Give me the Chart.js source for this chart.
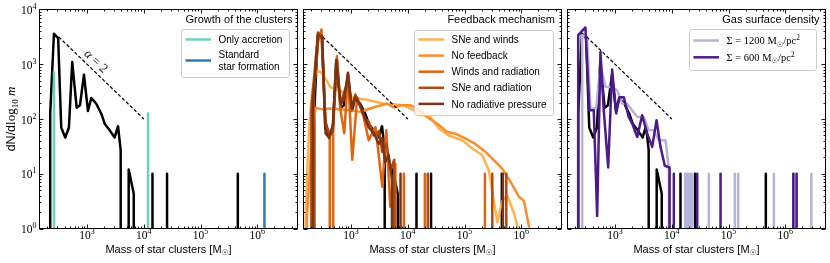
<!DOCTYPE html>
<html>
<head>
<meta charset="utf-8">
<script src="https://cdn.jsdelivr.net/npm/chart.js@4.4.0/dist/chart.umd.min.js"></script>
<style>
  html, body { margin: 0; padding: 0; background: #fff; }
  #wrap { position: relative; width: 830px; height: 263px; }
  #wrap canvas { position: absolute; left: 0; top: 0; }
</style>
</head>
<body>
<div id="wrap">
  <canvas id="c1" width="830" height="263"></canvas>
  <canvas id="c2" width="830" height="263"></canvas>
  <canvas id="c3" width="830" height="263"></canvas>
</div>
<script>
// ---------- data: log10(mass / Msun) and dN/dlog10 m (0 = empty bin) ----------
// fiducial run (black, in every panel)
const fidLogM = [2.35, 2.35, 2.416, 2.49, 2.544, 2.615, 2.68, 2.738, 2.816, 2.874, 2.945, 3.015, 3.074, 3.162, 3.25, 3.31, 3.398, 3.486, 3.545, 3.592, 3.592, 3.733, 3.733, 3.822, 3.822];
const fidDN   = [0, 126, 3600, 3000, 70, 46, 70, 1100, 161, 178, 646, 140, 242, 190, 125, 82, 62, 46, 74, 27, 0, 0, 12, 4.3, 0];
const fidSpikeLogM = [4.152, 4.409, 5.656];

// single clusters give dN/dlog m = 10
const oneCluster = 10;

// panel 1: growth of the clusters
const accSpikeLogM = [2.416, 4.074];
const accSpikeDN = [720, 126];
const stdSpikeLogM = [6.125];

// panel 2: feedback mechanism
const swLogM = [2.20, 2.20, 2.254, 2.31, 2.372, 2.45, 2.52, 2.636, 2.81, 2.99, 3.165, 3.342, 3.576, 3.78, 3.93, 4.105, 4.22, 4.37, 4.546, 4.72, 4.96, 5.135, 5.31, 5.428, 5.516, 5.576, 5.664, 5.75, 5.87, 5.93, 5.93];
const swDN   = [0, 2, 54, 300, 700, 740, 620, 380, 330, 250, 235, 218, 190, 185, 178, 145, 117, 117, 67, 50, 41, 29, 22, 11.6, 3.2, 1.3, 3.2, 4, 1.9, 1.1, 0];

const nfLogM = [2.22, 2.22, 2.30, 2.372, 2.50, 2.636, 2.81, 2.99, 3.165, 3.28, 3.46, 3.636, 3.75, 3.87, 4.047, 4.165, 4.34, 4.518, 4.694, 4.84, 5.017, 5.19, 5.37, 5.546, 5.664, 5.81, 5.957, 6.045, 6.134, 6.134];
const nfDN   = [0, 1.5, 30, 160, 150, 155, 150, 145, 135, 149, 171, 190, 162, 178, 178, 155, 109, 82, 58, 54, 44, 35, 25, 16.4, 12.4, 7.1, 3.8, 3.2, 1.1, 0];

const wrLogM = [2.34, 2.34, 2.416, 2.478, 2.55, 2.624, 2.624, 2.684, 2.684, 2.75, 2.81, 2.88, 2.945, 3.02, 3.107, 3.22, 3.31, 3.43, 3.55, 3.62, 3.69, 3.78, 3.78];
const wrDN   = [0, 250, 2500, 4300, 80, 55, 0, 0, 100, 1400, 150, 55, 650, 18, 250, 110, 41, 71, 5.8, 62, 2.5, 15, 0];
const wrSpikeLogM = [3.93, 4.30, 5.358];

const srLogM = [2.30, 2.30, 2.416, 2.478, 2.55, 2.615, 2.68, 2.75, 2.816, 2.874, 2.945, 3.015, 3.074, 3.16, 3.25, 3.31, 3.40, 3.49, 3.55, 3.62, 3.70, 3.76, 3.76];
const srDN   = [0, 150, 3800, 3300, 90, 50, 60, 1200, 180, 300, 500, 170, 280, 170, 100, 90, 50, 60, 25, 35, 12, 18, 0];
const srSpikeLogM = [4.352, 5.488, 5.735];

const nrpLogM = [2.33, 2.33, 2.416, 2.49, 2.55, 2.615, 2.68, 2.738, 2.816, 2.874, 2.945, 3.015, 3.074, 3.16, 3.25, 3.31, 3.40, 3.49, 3.55, 3.60, 3.66, 3.72, 3.72];
const nrpDN   = [0, 200, 3400, 3200, 55, 45, 80, 1200, 190, 220, 700, 150, 250, 180, 100, 70, 55, 35, 45, 16, 22, 8, 0];
const nrpSpikeLogM = [3.871, 5.675];

// panel 3: gas surface density
const s12LogM = [2.42, 2.42, 2.507, 2.566, 2.666, 2.742, 2.83, 2.948, 3.036, 3.125, 3.21, 3.30, 3.39, 3.505, 3.594, 3.68, 3.77, 3.888, 3.947, 3.947];
const s12DN   = [0, 3400, 3150, 155, 155, 1020, 385, 385, 335, 190, 190, 145, 109, 109, 62, 62, 41, 41, 13, 0];
const s12SpikeLogM = [4.235, 4.275, 4.315, 4.355, 4.652, 5.11, 5.17, 5.798, 6.163, 6.458];

const s6LogM = [2.35, 2.35, 2.477, 2.548, 2.624, 2.684, 2.742, 2.80, 2.878, 2.948, 3.019, 3.077, 3.153, 3.24, 3.30, 3.39, 3.477, 3.566, 3.654, 3.73, 3.80, 3.876, 3.96, 3.96];
const s6DN   = [0, 3400, 4700, 145, 145, 1.7, 1670, 145, 13, 800, 126, 250, 250, 109, 83, 47, 117, 54, 31, 95, 31, 14, 13, 0];
const s6SpikeLogM = [4.035, 4.447, 4.858, 6.14, 6.199];

// alpha = 2 reference slope
const slopeMass = [316, 10000];
const slopeDN = [3160, 100];

// axes
const xTickExp = [3, 4, 5, 6];
const yTickExp = [0, 1, 2, 3, 4];
const xTitle = 'Mass of star clusters [M☉]';
const panelTitles = ['Growth of the clusters', 'Feedback mechanism', 'Gas surface density'];

// ---------- helpers ----------
const SANS = '"Liberation Sans", Arial, sans-serif';
const SERIF = '"Liberation Serif", "DejaVu Serif", serif';
const EMPTY = 1e-6; // empty bins: far below the axis, like log(0) in the original

function curve(logM, dn) {
  return logM.map((l, i) => ({ x: Math.pow(10, l), y: dn[i] > 0 ? dn[i] : EMPTY }));
}
function spikes(logM, dn) {
  const out = [];
  logM.forEach((l, i) => {
    const x = Math.pow(10, l);
    const h = Array.isArray(dn) ? dn[i] : dn;
    out.push({ x, y: EMPTY }, { x, y: h }, { x, y: EMPTY });
  });
  return out;
}
function line(label, data, color, order, extra) {
  return Object.assign({
    label, data, borderColor: color, backgroundColor: color,
    borderWidth: 2.5, pointRadius: 0, tension: 0, fill: false,
    borderJoinStyle: 'round', order
  }, extra || {});
}
function fiducial() {
  return line('fiducial', curve(fidLogM, fidDN).concat(spikes(fidSpikeLogM, oneCluster)), '#000000', 20);
}
function slope() {
  return line('slope', slopeMass.map((m, i) => ({ x: m, y: slopeDN[i] })), '#000000', 0,
    { borderWidth: 1.2, borderDash: [3.5, 2] });
}

function richRuns(text, size, fam) {
  const runs = []; let buf = '';
  const flush = () => { if (buf) runs.push({ t: buf, font: size + 'px ' + fam, dy: 0 }); buf = ''; };
  for (const ch of text) {
    if (ch === '☉') { flush(); runs.push({ t: '☉', font: (size * 0.7) + 'px "DejaVu Sans"', dy: size * 0.22 }); }
    else if (ch === '²') { flush(); runs.push({ t: '2', font: (size * 0.7) + 'px ' + fam, dy: -size * 0.4 }); }
    else buf += ch;
  }
  flush();
  return runs;
}
function drawRuns(ctx, runs, x, y, align) {
  ctx.textAlign = 'left'; ctx.textBaseline = 'alphabetic';
  let w = 0;
  runs.forEach(r => { ctx.font = r.font; r.w = ctx.measureText(r.t).width; w += r.w; });
  let cx = align === 'center' ? x - w / 2 : align === 'right' ? x - w : x;
  runs.forEach(r => { ctx.font = r.font; ctx.fillText(r.t, cx, y + (r.dy || 0)); cx += r.w; });
}
function powRuns(e) {
  return [{ t: '10', font: '11.5px ' + SERIF }, { t: String(e), font: '8px ' + SERIF, dy: -5 }];
}

// frame, inward ticks, labels, legend
const deco = {
  id: 'deco',
  afterDatasetsDraw(chart, args, o) {
    const ctx = chart.ctx, a = chart.chartArea, xs = chart.scales.x, ys = chart.scales.y;
    ctx.save();
    ctx.fillStyle = '#000';
    ctx.strokeStyle = '#000';
    const seg = (x1, y1, x2, y2) => { ctx.beginPath(); ctx.moveTo(x1, y1); ctx.lineTo(x2, y2); ctx.stroke(); };

    // ticks
    ctx.lineWidth = 0.9;
    for (let d = 2; d <= 6; d++) for (let k = 1; k <= 9; k++) {
      const v = k * Math.pow(10, d);
      if (v < xs.min || v > xs.max) continue;
      const x = Math.round(xs.getPixelForValue(v)) + 0.5, L = k === 1 ? 4 : 2;
      seg(x, a.bottom, x, a.bottom - L); seg(x, a.top, x, a.top + L);
    }
    for (let d = 0; d <= 3; d++) for (let k = 1; k <= 9; k++) {
      const v = k * Math.pow(10, d);
      const y = Math.round(ys.getPixelForValue(v)) + 0.5, L = k === 1 ? 4 : 2;
      seg(a.left, y, a.left + L, y); seg(a.right, y, a.right - L, y);
    }
    // frame
    ctx.lineWidth = 1;
    ctx.strokeRect(a.left, a.top, a.right - a.left, a.bottom - a.top);

    // tick labels
    xTickExp.forEach(e => drawRuns(ctx, powRuns(e), xs.getPixelForValue(Math.pow(10, e)), 238.5, 'center'));
    if (o.yLabels) {
      yTickExp.forEach(e => drawRuns(ctx, powRuns(e), a.left - 3, ys.getPixelForValue(Math.pow(10, e)) + 4.5, 'right'));
      ctx.save();
      ctx.translate(15, (a.top + a.bottom) / 2);
      ctx.rotate(-Math.PI / 2);
      drawRuns(ctx, [
        { t: 'dN/d', font: '12.5px ' + SANS },
        { t: 'log', font: '13px ' + SERIF },
        { t: '10', font: '9px ' + SERIF, dy: 3 },
        { t: ' m', font: 'italic 13px ' + SERIF }
      ], 0, 0, 'center');
      ctx.restore();
    }
    drawRuns(ctx, richRuns(xTitle, 11, SANS), (a.left + a.right) / 2, 252.5, 'center');

    // alpha = 2 note
    if (o.alphaNote) {
      const p1 = { x: xs.getPixelForValue(slopeMass[0]), y: ys.getPixelForValue(slopeDN[0]) };
      const p2 = { x: xs.getPixelForValue(slopeMass[1]), y: ys.getPixelForValue(slopeDN[1]) };
      const ang = Math.atan2(p2.y - p1.y, p2.x - p1.x);
      const f = 0.37, off = 8.5;
      const cx = p1.x + (p2.x - p1.x) * f + Math.sin(ang) * off;
      const cy = p1.y + (p2.y - p1.y) * f - Math.cos(ang) * off;
      ctx.save();
      ctx.translate(cx, cy); ctx.rotate(ang);
      ctx.fillStyle = '#222';
      drawRuns(ctx, [{ t: 'α', font: 'italic 13px ' + SERIF }, { t: ' = 2', font: '13px ' + SERIF }], 0, 4, 'center');
      ctx.restore();
    }

    // legend
    const lg = o.legend;
    const [bx, by, bw, bh] = lg.box;
    ctx.beginPath();
    ctx.roundRect(bx, by, bw, bh, 2.5);
    ctx.fillStyle = 'rgba(255,255,255,0.8)'; ctx.fill();
    ctx.strokeStyle = '#cccccc'; ctx.lineWidth = 1; ctx.stroke();
    ctx.fillStyle = '#000';
    chart.data.datasets.filter(d => d.inLegend).forEach((d, i) => {
      const y = lg.rows[i];
      ctx.strokeStyle = d.borderColor; ctx.lineWidth = d.borderWidth; ctx.setLineDash([]);
      seg(bx + 4, y, bx + 29.5, y);
      const lines = d.label.split('\n');
      lines.forEach((t, j) => {
        const ly = y + (j - (lines.length - 1) / 2) * 12.7;
        drawRuns(ctx, richRuns(t, lg.size, lg.family), bx + 37, ly + lg.size * 0.36, 'left');
      });
    });
    drawRuns(ctx, [{ t: o.title, font: '11px ' + SANS }], o.titleRight, 23.3, 'right');
    ctx.restore();
  }
};

function makeChart(id, bounds, datasets, decoOpts) {
  return new Chart(document.getElementById(id), {
    type: 'line',
    data: { datasets },
    options: {
      responsive: false,
      devicePixelRatio: 1,
      animation: false,
      events: [],
      layout: { padding: { left: bounds[0], right: 830 - bounds[1], top: 9.5, bottom: 263 - 228.5 } },
      scales: {
        x: { type: 'logarithmic', min: 145, max: 5.1e6, display: false },
        y: { type: 'logarithmic', min: 1, max: 1e4, display: false }
      },
      plugins: { legend: { display: false }, tooltip: { enabled: false }, deco: decoOpts }
    },
    plugins: [deco]
  });
}

// panel 1
makeChart('c1', [39.5, 297.5], [
  line('Only accretion', spikes(accSpikeLogM, accSpikeDN), '#6dcfc0', 2, { inLegend: true }),
  line('Standard\nstar formation', spikes(stdSpikeLogM, oneCluster), '#2b7bba', 2, { inLegend: true }),
  fiducial(),
  slope()
], {
  yLabels: true, alphaNote: true, title: panelTitles[0], titleRight: 292.5,
  legend: { box: [181.5, 29.5, 108, 48], rows: [39.5, 60.5], size: 10, family: SANS }
});

// panel 2
makeChart('c2', [303.5, 561.5], [
  line('SNe and winds', curve(swLogM, swDN), '#fdb24f', 9, { inLegend: true }),
  line('No feedback', curve(nfLogM, nfDN), '#f98c2c', 8, { inLegend: true }),
  line('Winds and radiation', curve(wrLogM, wrDN).concat(spikes(wrSpikeLogM, oneCluster)), '#e2640f', 7, { inLegend: true }),
  line('SNe and radiation', curve(srLogM, srDN).concat(spikes(srSpikeLogM, oneCluster)), '#b3480b', 6, { inLegend: true }),
  line('No radiative pressure', curve(nrpLogM, nrpDN).concat(spikes(nrpSpikeLogM, oneCluster)), '#7b3413', 5, { inLegend: true }),
  fiducial(),
  slope()
], {
  yLabels: false, alphaNote: false, title: panelTitles[1], titleRight: 555,
  legend: { box: [414.5, 30.5, 139, 85], rows: [39.5, 55.6, 71.7, 87.8, 103.9], size: 10, family: SANS }
});

// panel 3
makeChart('c3', [567.5, 825.5], [
  line('Σ = 1200 M☉/pc²', curve(s12LogM, s12DN).concat(spikes(s12SpikeLogM, oneCluster)), '#b5b3d9', 6, { inLegend: true }),
  line('Σ = 600 M☉/pc²', curve(s6LogM, s6DN).concat(spikes(s6SpikeLogM, oneCluster)), '#4d1a8a', 5, { inLegend: true }),
  fiducial(),
  slope()
], {
  yLabels: false, alphaNote: false, title: panelTitles[2], titleRight: 819.5,
  legend: { box: [689.5, 29.5, 127, 41], rows: [40.5, 57.3], size: 10.5, family: SERIF }
});
</script>
</body>
</html>
